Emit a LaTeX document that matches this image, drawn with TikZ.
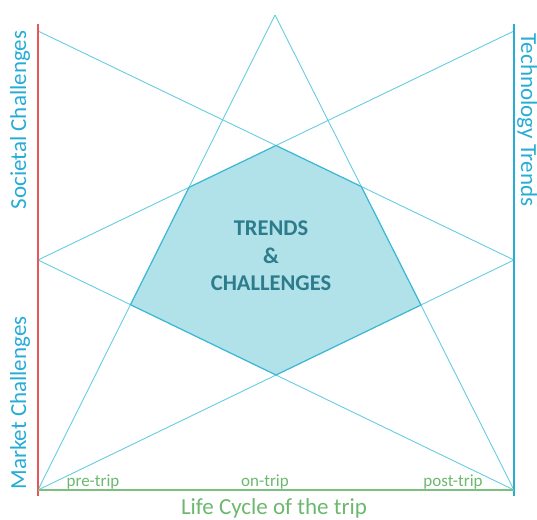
\documentclass[tikz,border=0pt]{standalone}
\usepackage{fontspec}
\setmainfont{Carlito}
\definecolor{cline}{HTML}{66CDE0}
\definecolor{cedge}{HTML}{3DB8D4}
\definecolor{cfill}{HTML}{B1E1E9}
\definecolor{ctext}{HTML}{2C7C8C}
\definecolor{cside}{HTML}{27ACD6}
\definecolor{cred}{HTML}{E8565A}
\definecolor{cgreen}{HTML}{7CC07E}
\definecolor{cgtext}{HTML}{6CB86E}
\tikzset{
  thin line/.style={draw=cline, line width=0.9pt},
  side label/.style={text=cside, font=\fontsize{23}{26}\selectfont, inner sep=0pt},
  phase label/.style={text=cgtext, font=\fontsize{17}{19}\selectfont, inner sep=0pt, anchor=base},
}
\begin{document}
\begin{tikzpicture}[x=1pt,y=-1pt]
\useasboundingbox (0,0) rectangle (537,519);
\coordinate (TL) at (38,31);
\coordinate (LM) at (38,260);
\coordinate (BL) at (38,490);
\coordinate (TR) at (514,31);
\coordinate (RM) at (514,260);
\coordinate (BR) at (514,490);
\coordinate (A) at (275,15);
% hexagon vertices
\coordinate (H1) at (intersection of TL--RM and TR--LM);
\coordinate (H2) at (intersection of TL--RM and A--BR);
\coordinate (H3) at (intersection of A--BR and RM--BL);
\coordinate (H4) at (intersection of RM--BL and LM--BR);
\coordinate (H5) at (intersection of LM--BR and A--BL);
\coordinate (H6) at (intersection of A--BL and TR--LM);
\fill[cfill] (H1) -- (H2) -- (H3) -- (H4) -- (H5) -- (H6) -- cycle;
% star lines
\draw[thin line] (TL) -- (RM);
\draw[thin line] (TR) -- (LM);
\draw[thin line] (LM) -- (BR);
\draw[thin line] (RM) -- (BL);
\draw[thin line] (A) -- (BL);
\draw[thin line] (A) -- (BR);
\draw[draw=cedge, line width=1.1pt, line join=miter] (H1) -- (H2) -- (H3) -- (H4) -- (H5) -- (H6) -- cycle;
% axes
\draw[cred, line width=2pt] (38,24) -- (38,496);
\draw[cside, line width=2pt] (514,24) -- (514,496);
\draw[cgreen, line width=2.2pt] (BL) -- (BR);
% labels
\node[side label, rotate=90] (soc) at (20,120) {Societal Challenges};
\node[side label, rotate=90] (mkt) at (20,403) {Market Challenges};
\node[side label, rotate=-90] (tech) at (527,120) {Technology Trends};
\node[text=cgtext, font=\fontsize{23}{25}\selectfont, inner sep=0pt] (life) at (274,508) {Life Cycle of the trip};
\node[phase label] (pre) at (93,486) {pre-trip};
\node[phase label] (on) at (265,486) {on-trip};
\node[phase label] (post) at (453,486) {post-trip};
\node[text=ctext, font=\bfseries\fontsize{22.5}{27.5}\selectfont, align=center, inner sep=0pt] (center) at (271,256) {TRENDS\\\&\\CHALLENGES};
\end{tikzpicture}
\end{document}
